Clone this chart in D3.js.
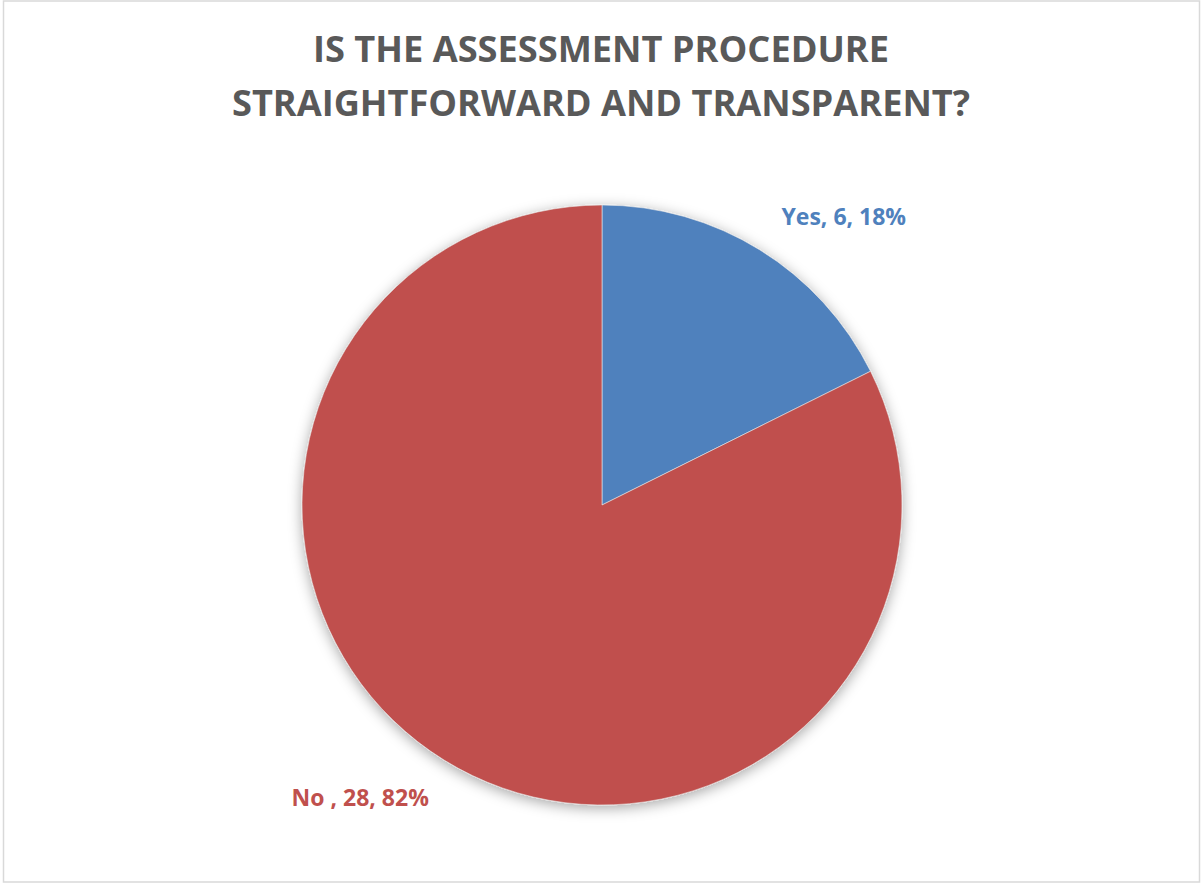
<!DOCTYPE html>
<html lang="en">
    <head>
        <meta charset="utf-8">
        <title>Assessment Procedure</title>
        <script src="https://d3js.org/d3.v7.min.js"></script>
        <style type="text/css">
            body {
                margin: 0;
                background: white;
            }
            .title {
                font-family: "Open Sans", sans-serif;
                font-weight: bold;
                fill: #595959;
            }
            .label {
                font-family: "Open Sans", sans-serif;
                font-weight: bold;
                font-size: 23px;
            }
        </style>
    </head>
    <body>
        <script type="text/javascript">

            // data
            const categories = ["Yes", "No "];
            const counts = [6, 28];
            const percents = ["18%", "82%"];
            const colors = ["#4F81BD", "#C0504D"];
            const titleLines = ["IS THE ASSESSMENT PROCEDURE", "STRAIGHTFORWARD AND TRANSPARENT?"];

            const w = 1201;
            const h = 884;
            const cx = 602;
            const cy = 505;
            const radius = 300;

            const svg = d3.select("body")
                .append("svg")
                .attr("width", w)
                .attr("height", h);

            // chart border
            svg.append("rect")
                .attr("x", 3.5)
                .attr("y", 1)
                .attr("width", 1196)
                .attr("height", 881)
                .attr("fill", "white")
                .attr("stroke", "#d9d9d9")
                .attr("stroke-width", 1.5);

            // soft shadow
            const defs = svg.append("defs");
            const filter = defs.append("filter")
                .attr("id", "shadow")
                .attr("x", "-20%").attr("y", "-20%")
                .attr("width", "140%").attr("height", "140%");
            filter.append("feDropShadow")
                .attr("dx", 0)
                .attr("dy", 3)
                .attr("stdDeviation", 7)
                .attr("flood-color", "#000")
                .attr("flood-opacity", 0.35);

            // title
            svg.selectAll(".title")
                .data(titleLines)
                .join("text")
                .attr("class", "title")
                .attr("x", 601)
                .attr("y", (d, i) => 62 + i * 54)
                .attr("text-anchor", "middle")
                .attr("font-size", 36)
                .attr("textLength", (d, i) => i == 0 ? 576 : 738)
                .attr("lengthAdjust", "spacingAndGlyphs")
                .text(d => d);

            const data = categories.map((c, i) => ({name: c, value: counts[i], pct: percents[i], color: colors[i]}));

            const pie = d3.pie()
                .sort(null)
                .value(d => d.value);

            const arc = d3.arc()
                .innerRadius(0)
                .outerRadius(radius);

            const g = svg.append("g")
                .attr("transform", "translate(" + cx + "," + cy + ")");

            g.append("g")
                .attr("filter", "url(#shadow)")
                .selectAll("path")
                .data(pie(data))
                .join("path")
                .attr("d", arc)
                .attr("fill", d => d.data.color)
                .attr("stroke", "#e8e8e8")
                .attr("stroke-width", 0.6);

            // labels sit a bit clockwise of each slice's middle, outside the pie
            const labelOffset = 8 * Math.PI / 180;
            const labelR = radius * 1.26;
            g.selectAll(".label")
                .data(pie(data))
                .join("text")
                .attr("class", "label")
                .attr("x", d => labelR * Math.sin((d.startAngle + d.endAngle) / 2 + labelOffset))
                .attr("y", d => -labelR * Math.cos((d.startAngle + d.endAngle) / 2 + labelOffset))
                .attr("dy", "0.45em")
                .attr("text-anchor", "middle")
                .attr("fill", d => d.data.color)
                .text(d => d.data.name + ", " + d.data.value + ", " + d.data.pct);

        </script>
    </body>
</html>
